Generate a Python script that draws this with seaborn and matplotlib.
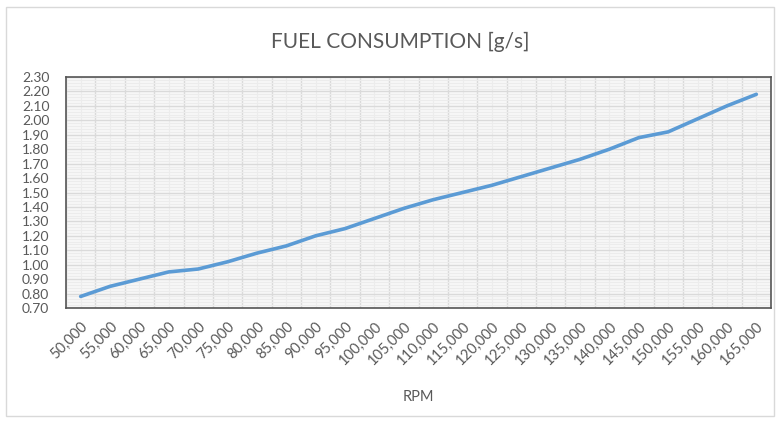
import numpy as np
import pandas as pd
import matplotlib
matplotlib.use("Agg")
import matplotlib.pyplot as plt
import seaborn as sns
from matplotlib.patches import Rectangle
from matplotlib.ticker import MultipleLocator

# data
rpm = [50000, 55000, 60000, 65000, 70000, 75000, 80000, 85000, 90000, 95000,
       100000, 105000, 110000, 115000, 120000, 125000, 130000, 135000, 140000,
       145000, 150000, 155000, 160000, 165000]
fuel = [0.78, 0.85, 0.90, 0.95, 0.97, 1.02, 1.08, 1.13, 1.20, 1.25,
        1.32, 1.39, 1.45, 1.50, 1.55, 1.61, 1.67, 1.73, 1.80,
        1.88, 1.92, 2.01, 2.10, 2.18]
rpm_labels = [f"{r:,}" for r in rpm]

df = pd.DataFrame({"RPM": rpm_labels, "Fuel": fuel})

sns.set_style("white")
plt.rcParams["font.family"] = ["Lato", "DejaVu Sans"]

fig = plt.figure(figsize=(7.77, 4.21), dpi=100)
ax = fig.add_axes([66 / 777, 1 - 308 / 421, 705 / 777, 231 / 421])

sns.lineplot(data=df, x="RPM", y="Fuel", ax=ax, color="#5B9BD5", lw=2.6,
             solid_capstyle="round", zorder=5)

ax.set_facecolor("#F7F7F7")
n = len(rpm)
ax.set_xlim(-0.5, n - 0.5)
ax.set_ylim(0.70, 2.30)

# gridlines: darker at category boundaries / 0.1 steps, lighter in between
ax.set_xticks(np.arange(n))
ax.set_xticklabels(rpm_labels, rotation=45, ha="right", rotation_mode="anchor")
ax.set_xticks(np.arange(n + 1) - 0.5, minor=True)
ax.yaxis.set_minor_locator(MultipleLocator(0.02))
ax.set_yticks(np.arange(0.7, 2.31, 0.1))
ax.set_yticklabels([f"{v:.2f}" for v in np.arange(0.7, 2.31, 0.1)])

ax.grid(True, which="minor", axis="x", color="#DADADA", lw=1.0, zorder=0)
ax.grid(True, which="major", axis="x", color="#ECECEC", lw=0.8, zorder=0)
ax.grid(True, which="major", axis="y", color="#DADADA", lw=1.0, zorder=0)
ax.grid(True, which="minor", axis="y", color="#ECECEC", lw=0.8, zorder=0)
ax.set_axisbelow(True)

ax.tick_params(which="both", length=0)
ax.tick_params(axis="y", labelsize=10, labelcolor="#595959", pad=12)
ax.tick_params(axis="x", labelsize=10.5, labelcolor="#595959", pad=8)

for s in ax.spines.values():
    s.set_visible(True)
    s.set_color("#555555")
    s.set_linewidth(1.2)

ax.set_xlabel("RPM", fontsize=10.5, color="#595959", labelpad=16)
ax.set_ylabel("")
fig.text(0.515, 0.9, "FUEL CONSUMPTION [g/s]", ha="center", va="center",
         fontsize=15, color="#595959")

# light chart-area border
fig.patches.append(Rectangle((6 / 777, 5 / 421), 768 / 777, 409 / 421,
                             transform=fig.transFigure, fill=False,
                             edgecolor="#D9D9D9", lw=1))

fig.savefig("out.png", dpi=100)
